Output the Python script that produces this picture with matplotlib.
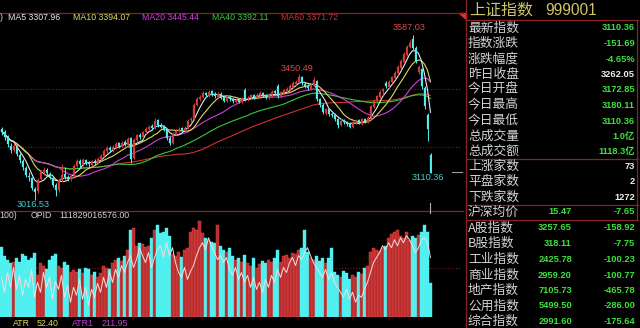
import matplotlib
matplotlib.use("Agg")
import matplotlib.pyplot as plt
import numpy as np
import pandas as pd
from matplotlib.patches import Polygon

# ---------------- data ----------------
opens = [3262, 3250, 3232, 3205, 3188, 3200, 3172, 3150, 3128, 3100, 3092, 3055,
         3048, 3088, 3112, 3122, 3108, 3092, 3068, 3052, 3086, 3108, 3096, 3088,
         3102, 3136, 3152, 3138, 3156, 3146, 3138, 3152, 3144, 3158, 3168, 3186,
         3198, 3188, 3198, 3212, 3204, 3216, 3208, 3230, 3162, 3224, 3242, 3234,
         3250, 3262, 3272, 3266, 3292, 3274, 3272, 3262, 3232, 3214, 3244, 3254,
         3264, 3256, 3266, 3292, 3296, 3346, 3366, 3374, 3386, 3376, 3392, 3382,
         3374, 3384, 3372, 3358, 3374, 3364, 3356, 3364, 3354, 3395, 3364, 3368,
         3380, 3370, 3378, 3386, 3380, 3370, 3378, 3392, 3410, 3374, 3386, 3394,
         3398, 3408, 3418, 3424, 3442, 3418, 3412, 3400, 3414, 3428, 3364, 3346,
         3318, 3332, 3314, 3312, 3296, 3276, 3292, 3284, 3282, 3268, 3284, 3292,
         3280, 3296, 3286, 3302, 3338, 3358, 3374, 3392, 3420, 3408, 3424, 3438,
         3454, 3474, 3494, 3518, 3546, 3572, 3542, 3460, 3470, 3405, 3310, 3172.85]
highs = [3270, 3258, 3240, 3215, 3212, 3206, 3180, 3158, 3135, 3112, 3098, 3062,
         3092, 3122, 3132, 3128, 3114, 3098, 3075, 3092, 3140, 3130, 3102, 3108,
         3142, 3158, 3160, 3162, 3160, 3150, 3156, 3158, 3166, 3176, 3192, 3202,
         3204, 3206, 3216, 3218, 3222, 3224, 3236, 3234, 3230, 3246, 3248, 3256,
         3268, 3276, 3278, 3300, 3296, 3282, 3276, 3266, 3238, 3252, 3262, 3268,
         3268, 3272, 3296, 3302, 3350, 3372, 3380, 3392, 3390, 3396, 3396, 3388,
         3388, 3388, 3376, 3378, 3378, 3368, 3368, 3366, 3374, 3405, 3376, 3384,
         3384, 3386, 3392, 3390, 3384, 3386, 3396, 3396, 3416, 3394, 3400, 3406,
         3416, 3426, 3432, 3450.49, 3446, 3424, 3416, 3420, 3440, 3432, 3370, 3352,
         3336, 3336, 3322, 3316, 3300, 3300, 3296, 3290, 3286, 3290, 3296, 3296,
         3300, 3300, 3306, 3346, 3366, 3380, 3396, 3404, 3428, 3432, 3446, 3462,
         3482, 3502, 3528, 3552, 3570, 3587.03, 3548, 3482, 3474, 3412, 3318, 3180.11]
lows = [3240, 3225, 3200, 3180, 3182, 3168, 3145, 3122, 3098, 3082, 3050, 3016.53,
        3040, 3082, 3105, 3100, 3088, 3062, 3030, 3045, 3080, 3088, 3082, 3084,
        3098, 3130, 3132, 3134, 3138, 3132, 3134, 3138, 3140, 3152, 3164, 3180,
        3184, 3184, 3192, 3198, 3200, 3204, 3204, 3145, 3158, 3218, 3228, 3230,
        3246, 3256, 3258, 3262, 3270, 3264, 3254, 3225, 3207, 3210, 3240, 3250,
        3250, 3252, 3262, 3284, 3292, 3340, 3360, 3368, 3372, 3372, 3376, 3368,
        3370, 3364, 3354, 3354, 3360, 3350, 3352, 3350, 3350, 3360, 3360, 3364,
        3366, 3366, 3374, 3372, 3366, 3366, 3374, 3380, 3370, 3370, 3382, 3390,
        3394, 3404, 3414, 3420, 3414, 3404, 3396, 3396, 3410, 3358, 3338, 3314,
        3312, 3308, 3304, 3288, 3266, 3272, 3278, 3272, 3264, 3264, 3280, 3278,
        3276, 3282, 3282, 3298, 3334, 3352, 3370, 3380, 3404, 3404, 3420, 3434,
        3450, 3470, 3490, 3514, 3540, 3535, 3488, 3452, 3400, 3330, 3222, 3110.36]
closes = [3255, 3235, 3210, 3190, 3205, 3175, 3155, 3130, 3105, 3095, 3060, 3045,
          3085, 3115, 3120, 3110, 3095, 3070, 3050, 3085, 3105, 3095, 3090, 3100,
          3135, 3150, 3140, 3155, 3145, 3140, 3150, 3145, 3160, 3170, 3185, 3195,
          3190, 3200, 3210, 3205, 3215, 3210, 3228, 3160, 3225, 3240, 3235, 3250,
          3262, 3270, 3265, 3290, 3275, 3270, 3260, 3230, 3215, 3245, 3255, 3262,
          3258, 3265, 3290, 3295, 3345, 3365, 3372, 3385, 3378, 3390, 3380, 3375,
          3382, 3370, 3360, 3372, 3365, 3358, 3362, 3355, 3368, 3365, 3370, 3378,
          3372, 3380, 3385, 3378, 3372, 3380, 3390, 3385, 3375, 3388, 3395, 3400,
          3410, 3420, 3425, 3440, 3420, 3410, 3402, 3415, 3430, 3365, 3345, 3320,
          3330, 3315, 3310, 3295, 3275, 3290, 3285, 3280, 3270, 3285, 3290, 3282,
          3295, 3288, 3300, 3340, 3360, 3375, 3390, 3400, 3410, 3425, 3440, 3455,
          3475, 3495, 3520, 3545, 3560, 3540, 3495, 3475, 3410, 3340, 3262.05, 3110.36]
volumes = [71, 62, 58, 55, 56, 60, 56, 64, 62, 58, 60, 65,
           42, 55, 52, 48, 58, 62, 64, 52, 50, 56, 53, 45,
           47, 45, 48, 44, 50, 48, 42, 45, 40, 44, 52, 50,
           48, 55, 58, 60, 57, 62, 68, 88, 90, 72, 75, 74,
           71, 72, 80, 88, 93, 85, 86, 90, 82, 64, 62, 66,
           61, 68, 70, 86, 90, 88, 97, 85, 80, 78, 76, 75,
           93, 72, 68, 66, 70, 62, 58, 60, 56, 63, 55, 52,
           60, 50, 54, 57, 55, 58, 56, 60, 68, 56, 62, 63,
           60, 65, 64, 68, 70, 88, 66, 60, 58, 62, 57, 60,
           55, 60, 70, 45, 42, 40, 46, 44, 38, 42, 40, 45,
           43, 50, 52, 66, 70, 68, 67, 70, 72, 80, 84, 86,
           88, 82, 80, 86, 78, 82, 80, 83, 86, 93, 86, 34]
opid_line = [40, 25, 45, 30, 50, 28, 42, 22, 38, 30, 48, 20,
             35, 25, 45, 30, 40, 18, 36, 28, 42, 20, 32, 15,
             30, 22, 38, 18, 30, 12, 28, 20, 34, 25, 40, 30,
             46, 35, 48, 40, 52, 45, 55, 62, 50, 58, 70, 62,
             55, 65, 50, 60, 68, 72, 60, 75, 62, 70, 55, 45,
             40, 50, 38, 46, 52, 62, 70, 75, 68, 80, 72, 65,
             58, 62, 55, 60, 48, 42, 50, 38, 45, 35, 42, 30,
             40, 28, 35, 25, 38, 30, 42, 35, 48, 40, 50, 45,
             55, 60, 52, 62, 58, 65, 70, 62, 55, 50, 45, 40,
             48, 38, 45, 35, 30, 25, 20, 28, 18, 25, 15, 22,
             20, 28, 35, 45, 55, 60, 65, 72, 68, 75, 70, 78,
             72, 80, 75, 82, 78, 72, 65, 70, 78, 80, 75, 60]

ma_periods = [5, 10, 20, 40, 60]
ma_legend = ["MA5 3307.96", "MA10 3394.07", "MA20 3445.44", "MA40 3392.11", "MA60 3371.72"]

info_labels = ["最新指数", "指数涨跌", "涨跌幅度", "昨日收盘", "今日开盘", "今日最高", "今日最低",
               "总成交量", "总成交额", "上涨家数", "平盘家数", "下跌家数"]
info_values = ["3110.36", "-151.69", "-4.65%", "3262.05", "3172.85", "3180.11", "3110.36",
               "1.0亿", "1118.3亿", "73", "2", "1272"]
avg_label = "沪深均价"
avg_values = ["15.47", "-7.65"]
idx_labels = ["A股指数", "B股指数", "工业指数", "商业指数", "地产指数", "公用指数", "综合指数"]
idx_values = ["3257.65", "318.11", "2425.78", "2959.20", "7105.73", "5499.50", "2991.60"]
idx_changes = ["-158.92", "-7.75", "-100.23", "-100.77", "-465.78", "-286.00", "-175.64"]

# ---------------- style ----------------
W, H = 640, 328
BG = "black"
RED = "#d83a3a"
CYAN = "#50f0f0"
GREEN = "#3ee03e"
LABEL = "#d2d2d2"
GRID = "#7a1c1c"
LINE = "#8c2222"
ma_colors = ["#e8e8e8", "#dcd860", "#d040d8", "#38c838", "#d03030"]

fig = plt.figure(figsize=(W / 100, H / 100), dpi=100, facecolor=BG)


def box(x0, y0, x1, y1):
    return [x0 / W, 1 - y1 / H, (x1 - x0) / W, (y1 - y0) / H]


n = len(closes)
idx = np.arange(n)
o = np.array(opens, float)
c = np.array(closes, float)
hi = np.array(highs, float)
lo = np.array(lows, float)
up = c >= o
cols = np.where(up, RED, CYAN)

# price axes: pixel y=89 -> 3400, 3.45 per px
ax = fig.add_axes(box(0, 22, 460, 208))
ax.set_facecolor("none")
ax.set_xlim(-0.5, 460 / 3 - 0.5)
ax.set_ylim(3400 - (208 - 89) * 3.45, 3400 + (89 - 22) * 3.45)
ax.axis("off")
for g in (3400, 3200):
    ax.axhline(g, color=GRID, lw=0.8, ls=(0, (1, 1.5)), zorder=0)

ser = pd.Series(c)
for p, col in zip(ma_periods[::-1], ma_colors[::-1]):
    ax.plot(idx, ser.rolling(p, min_periods=1).mean(), color=col, lw=0.8, zorder=2)

ax.vlines(idx, lo, hi, colors=cols, lw=0.7, zorder=3)
body_h = np.abs(c - o)
body_h = np.where(body_h < 1.5, 1.5, body_h)
ax.bar(idx, body_h, bottom=np.minimum(o, c), width=0.55, color=cols,
       edgecolor=cols, lw=0.2, zorder=4)

imax = int(np.argmax(hi))
imin = int(np.argmin(lo))
lab_kw = dict(textcoords="offset points", fontsize=6.6, family="Liberation Sans", va="center")
ax.annotate(f"{hi[imax]:.2f}", (imax, hi[imax]), xytext=(-2.5, 5), ha="center",
            color="#d84848", **lab_kw)
ax.annotate(f"{hi[99]:.2f}", (99, hi[99]), xytext=(-0.7, 4.3), ha="center",
            color="#d84848", **lab_kw)
ax.annotate(f"{lo[imin]:.2f}", (imin, lo[imin]), xytext=(-12.6, -3.4), ha="left",
            color="#48d0d0", **lab_kw)
ax.annotate(f"{c[-1]:.2f}", (n - 1, lo[-1]), xytext=(-1.8, -3.6), ha="center",
            color="#48d0d0", **lab_kw)

# volume axes
vax = fig.add_axes(box(0, 218, 460, 317))
vax.set_facecolor("none")
vax.set_xlim(-0.5, 460 / 3 - 0.5)
vax.set_ylim(0, 100)
vax.axis("off")
vax.axhline(50, color=GRID, lw=0.8, ls=(0, (1, 1.5)), zorder=0)
vcols = np.where(up, "#b82c2c", CYAN)
vedge = np.where(up, "#e85050", CYAN)
vax.bar(idx, volumes, width=0.74, color=vcols, edgecolor=vedge, lw=0.3, zorder=2)
vax.plot(idx, opid_line, color="#f4dede", lw=0.7, zorder=3)

# overlay in pixel coordinates
ov = fig.add_axes([0, 0, 1, 1])
ov.set_xlim(0, W)
ov.set_ylim(H, 0)
ov.axis("off")
ov.set_facecolor("none")

ov.plot([0, 463], [13, 13], color=LINE, lw=0.9)
ov.plot([0, 463], [210.5, 210.5], color=LINE, lw=0.9)
ov.plot([466, 466], [0, H], color=LINE, lw=0.9)
ov.add_patch(Polygon([[459, 13], [466, 13], [466, 19]], closed=True, color="#e03030"))
for yy in (20, 159, 204.5, 219.5):
    ov.plot([466, 638], [yy, yy], color=LINE, lw=0.9)
ov.plot([637, 637], [20, 219.5], color=LINE, lw=0.9)
ov.plot([429.5, 429.5], [203, 213], color="#b0b0b0", lw=0.8)
ov.plot([452, 462], [172, 172], color="#a0a0a0", lw=0.8)

# MA legend
fk = dict(fontsize=6.3, family="Liberation Sans", va="center", ha="left")
ov.text(0, 18, ")", color=LABEL, **fk)
for txt, x, col in zip(ma_legend, [8, 73, 142, 212, 281], ma_colors):
    ov.text(x, 18, txt, color=col, **fk)
ov.text(-1, 216, "100)", color=LABEL, **fk)
ov.text(31, 216, "OPID", color=LABEL, **fk)
ov.text(59, 216, "111829016576.00", color=LABEL, **fk)
ov.text(13, 323, "ATR", color="#dcd860", **fk)
ov.text(37, 323, "52.40", color="#dcd860", **fk)
ov.text(72, 323, "ATR1", color="#c040d8", **fk)
ov.text(102, 323, "211.95", color="#c040d8", **fk)

# right panel
TITLE = "#cfc46a"
ov.text(469, 10, "上证指数", color=TITLE, fontsize=11.5, family=["Noto Sans CJK SC"],
        va="center", ha="left")
ov.text(545, 10.5, "999001", color=TITLE, fontsize=11.2, family=["Liberation Sans"],
        va="center", ha="left")

vfont = ["Liberation Sans", "Noto Sans CJK SC"]
rows_y = [28, 43.5, 59, 74.5, 89.5, 105, 121, 136, 151.5, 166.5, 181.5, 197]
white_vals = {"3262.05", "73", "2", "1272"}
for lab, val, yy in zip(info_labels, info_values, rows_y):
    ov.text(468, yy, lab, color=LABEL, fontsize=9.2, family=["Noto Sans CJK SC"],
            va="center", ha="left")
    ov.text(635, yy, val, color=("#f0f0f0" if val in white_vals else GREEN), fontsize=6.7,
            fontweight="bold", family=vfont, va="center", ha="right")

ov.text(468, 212, avg_label, color=LABEL, fontsize=9.2, family=["Noto Sans CJK SC"],
        va="center", ha="left")
ov.text(572, 212, avg_values[0], color=GREEN, fontsize=6.7, fontweight="bold", family=vfont,
        va="center", ha="right")
ov.text(635, 212, avg_values[1], color=GREEN, fontsize=6.7, fontweight="bold", family=vfont,
        va="center", ha="right")

idx_y = [228, 243.5, 259.5, 275, 290.5, 306, 321.5]
for lab, v1, v2, yy in zip(idx_labels, idx_values, idx_changes, idx_y):
    ov.text(468, yy, lab, color=LABEL, fontsize=9.2, family=["Noto Sans CJK SC"],
            va="center", ha="left")
    ov.text(572, yy, v1, color=GREEN, fontsize=6.7, fontweight="bold", family=vfont,
            va="center", ha="right")
    ov.text(635, yy, v2, color=GREEN, fontsize=6.7, fontweight="bold", family=vfont,
            va="center", ha="right")

fig.savefig("out.png", dpi=100, facecolor=BG)
